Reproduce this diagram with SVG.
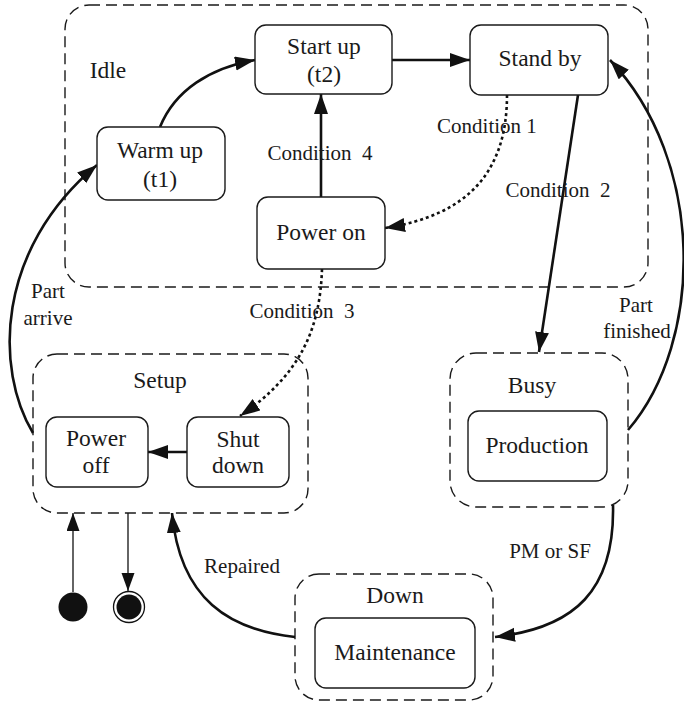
<svg xmlns="http://www.w3.org/2000/svg" width="684" height="705" viewBox="0 0 684 705" font-family="Liberation Serif">
  <defs>
    <style>
      .box { fill: #ffffff; stroke: #1a1a1a; stroke-width: 1.4; }
      .group { fill: none; stroke: #1a1a1a; stroke-width: 1.4; stroke-dasharray: 11 6; }
      .node { font-family: 'Liberation Serif', serif; font-size: 23.5px; text-anchor: middle; fill: #1a1a1a; }
      .label { font-family: 'Liberation Serif', serif; font-size: 21px; text-anchor: middle; fill: #1a1a1a; }
      .edge { fill: none; stroke: #111111; stroke-width: 2.6; }
      .dotted { fill: none; stroke: #111111; stroke-width: 2.6; stroke-dasharray: 3 3; }
      .thin { fill: none; stroke: #111111; stroke-width: 1.3; }
    </style>
    <marker id="arrow" markerUnits="userSpaceOnUse" markerWidth="22" markerHeight="16" refX="20" refY="7" orient="auto">
      <path d="M0,0 L20,7 L0,14 z" fill="#111111"/>
    </marker>
    <marker id="arrowSmall" markerUnits="userSpaceOnUse" markerWidth="20" markerHeight="16" refX="18" refY="6.5" orient="auto">
      <path d="M0,0 L18,6.5 L0,13 z" fill="#111111"/>
    </marker>
  </defs>

  <!-- composite states: dashed rounded outlines with a title -->
  <g id="idle">
    <rect class="group" x="65" y="5" width="583" height="282" rx="24"/>
    <text class="node" x="108" y="78">Idle</text>
  </g>
  <g id="setup">
    <rect class="group" x="33" y="354" width="275" height="159" rx="24"/>
    <text class="node" x="160" y="388">Setup</text>
  </g>
  <g id="busy">
    <rect class="group" x="450" y="353" width="178" height="154" rx="26"/>
    <text class="node" x="532" y="393">Busy</text>
  </g>
  <g id="down">
    <rect class="group" x="295" y="574" width="198" height="126" rx="24"/>
    <text class="node" x="395" y="603">Down</text>
  </g>

  <!-- transitions -->
  <g id="connectors">
    <path class="edge" d="M160,127 C175,90 210,68 255,60" marker-end="url(#arrow)"/>
    <path class="edge" d="M321,197 L321,94" marker-end="url(#arrow)"/>
    <path class="edge" d="M392,60 L470,60" marker-end="url(#arrow)"/>
    <path class="dotted" d="M507,95 C507,170 470,215 385,228" marker-end="url(#arrow)"/>
    <path class="edge" d="M578,95 L539,352" marker-end="url(#arrow)"/>
    <path class="edge" d="M628,430 C705,340 705,160 610,60" marker-end="url(#arrow)"/>
    <path class="dotted" d="M322,269 C320,330 300,375 240,416" marker-end="url(#arrow)"/>
    <path class="edge" d="M187,452 L148,452" marker-end="url(#arrow)"/>
    <path class="edge" d="M33,433 C-5,370 -5,250 97,165" marker-end="url(#arrow)"/>
    <path class="edge" d="M295,637 C230,630 180,600 172,513" marker-end="url(#arrow)"/>
    <path class="edge" d="M613,505 C615,590 575,628 495,637" marker-end="url(#arrow)"/>
    <path class="thin" d="M73,592 L73,513" marker-end="url(#arrowSmall)"/>
    <path class="thin" d="M128,513 L128,591" marker-end="url(#arrowSmall)"/>

    <text class="label" x="320" y="160" xml:space="preserve">Condition  4</text>
    <text class="label" x="487" y="133">Condition 1</text>
    <text class="label" x="558" y="197" xml:space="preserve">Condition  2</text>
    <text class="label" x="302" y="318" xml:space="preserve">Condition  3</text>
    <text class="label" x="636" y="312">Part</text>
    <text class="label" x="637" y="338">finished</text>
    <text class="label" x="48" y="298">Part</text>
    <text class="label" x="48" y="325">arrive</text>
    <text class="label" x="242" y="573">Repaired</text>
    <text class="label" x="550" y="558">PM or SF</text>
  </g>

  <!-- simple states -->
  <g id="start-up">
    <rect class="box" x="255" y="25" width="137" height="69" rx="11"/>
    <text class="node" x="324" y="54">Start up</text>
    <text class="node" x="324" y="82">(t2)</text>
  </g>
  <g id="stand-by">
    <rect class="box" x="470" y="25" width="138" height="70" rx="11"/>
    <text class="node" x="540" y="66">Stand by</text>
  </g>
  <g id="warm-up">
    <rect class="box" x="97" y="127" width="128" height="73" rx="11"/>
    <text class="node" x="160" y="158">Warm up</text>
    <text class="node" x="160" y="187">(t1)</text>
  </g>
  <g id="power-on">
    <rect class="box" x="257" y="197" width="128" height="72" rx="11"/>
    <text class="node" x="321" y="240">Power on</text>
  </g>
  <g id="power-off">
    <rect class="box" x="46" y="417" width="102" height="70" rx="11"/>
    <text class="node" x="96" y="446">Power</text>
    <text class="node" x="96" y="473">off</text>
  </g>
  <g id="shut-down">
    <rect class="box" x="187" y="417" width="102" height="70" rx="11"/>
    <text class="node" x="238" y="447">Shut</text>
    <text class="node" x="238" y="473">down</text>
  </g>
  <g id="production">
    <rect class="box" x="468" y="411" width="139" height="70" rx="11"/>
    <text class="node" x="537" y="453">Production</text>
  </g>
  <g id="maintenance">
    <rect class="box" x="315" y="618" width="160" height="70" rx="11"/>
    <text class="node" x="395" y="660">Maintenance</text>
  </g>

  <!-- pseudo states -->
  <g id="initial">
    <circle cx="73" cy="607" r="14.5" fill="#111111"/>
  </g>
  <g id="final">
    <circle cx="129" cy="607" r="15.5" fill="#ffffff" stroke="#111111" stroke-width="1.3"/>
    <circle cx="129" cy="607" r="12.5" fill="#111111"/>
  </g>
</svg>
